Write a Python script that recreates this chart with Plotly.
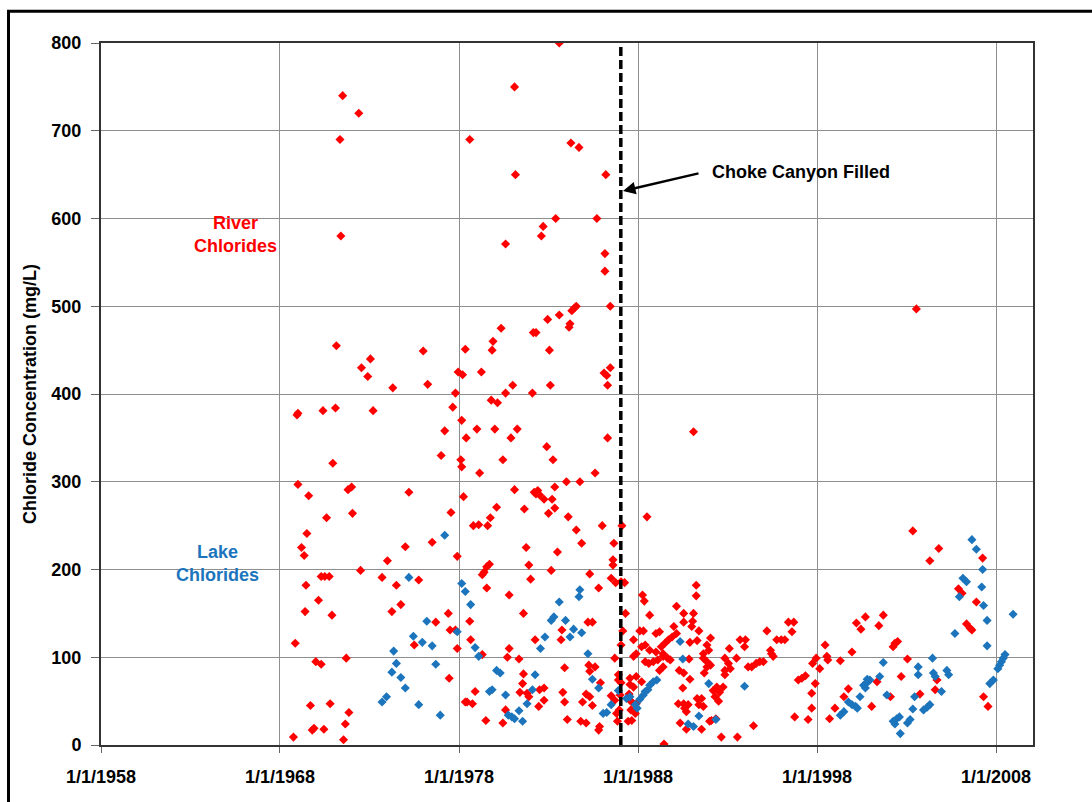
import datetime as dt
import plotly.graph_objects as go

# ---- data: sample date as decimal year, chloride in mg/L ----
river_year = [
    1968.75, 1968.85, 1968.95, 1969.0, 1969.0, 1969.2, 1969.35, 1969.4, 1969.45, 1969.5,
    1969.6, 1969.7, 1969.8, 1969.9, 1970.0, 1970.15, 1970.3, 1970.3, 1970.4, 1970.45,
    1970.5, 1970.6, 1970.75, 1970.8, 1970.9, 1970.95, 1971.1, 1971.15, 1971.35, 1971.4,
    1971.5, 1971.55, 1971.65, 1971.7, 1971.8, 1971.85, 1972.0, 1972.05, 1972.4, 1972.5,
    1972.55, 1972.9, 1973.05, 1973.2, 1973.7, 1974.0, 1974.25, 1974.3, 1974.5, 1974.75,
    1975.0, 1975.2, 1975.5, 1975.75, 1976.0, 1976.25, 1976.5, 1976.7, 1977.0, 1977.2,
    1977.4, 1977.45, 1977.5, 1977.55, 1977.65, 1977.8, 1977.8, 1977.9, 1977.9, 1977.95,
    1978.1, 1978.15, 1978.15, 1978.2, 1978.25, 1978.35, 1978.35, 1978.4, 1978.45, 1978.6,
    1978.6, 1978.65, 1978.75, 1978.8, 1978.9, 1979.0, 1979.1, 1979.15, 1979.25, 1979.3,
    1979.3, 1979.4, 1979.5, 1979.55, 1979.55, 1979.6, 1979.7, 1979.75, 1979.8, 1979.85,
    1979.9, 1980.0, 1980.1, 1980.15, 1980.35, 1980.45, 1980.45, 1980.6, 1980.6, 1980.6,
    1980.7, 1980.8, 1980.8, 1980.9, 1981.0, 1981.1, 1981.1, 1981.15, 1981.25, 1981.35,
    1981.4, 1981.55, 1981.6, 1981.6, 1981.65, 1981.75, 1981.8, 1981.9, 1981.9, 1982.0,
    1982.1, 1982.15, 1982.2, 1982.25, 1982.3, 1982.3, 1982.4, 1982.45, 1982.5, 1982.5,
    1982.6, 1982.7, 1982.75, 1982.75, 1982.75, 1982.9, 1982.95, 1983.0, 1983.05, 1983.1,
    1983.15, 1983.2, 1983.25, 1983.35, 1983.35, 1983.4, 1983.5, 1983.6, 1983.6, 1983.7,
    1983.75, 1983.8, 1983.9, 1983.9, 1984.0, 1984.05, 1984.1, 1984.15, 1984.2, 1984.25,
    1984.3, 1984.45, 1984.55, 1984.55, 1984.7, 1984.75, 1984.8, 1984.85, 1984.9, 1985.1,
    1985.1, 1985.2, 1985.25, 1985.3, 1985.3, 1985.3, 1985.45, 1985.45, 1985.6, 1985.6,
    1985.7, 1985.8, 1985.8, 1985.85, 1985.9, 1986.0, 1986.1, 1986.15, 1986.15, 1986.2,
    1986.25, 1986.3, 1986.3, 1986.45, 1986.45, 1986.5, 1986.5, 1986.6, 1986.6, 1986.65,
    1986.7, 1986.7, 1986.75, 1986.8, 1986.85, 1986.9, 1986.9, 1986.95, 1987.0, 1987.05,
    1987.05, 1987.05, 1987.1, 1987.15, 1987.25, 1987.3, 1987.45, 1987.5, 1987.55, 1987.55,
    1987.55, 1987.6, 1987.65, 1987.65, 1987.75, 1987.75, 1987.75, 1987.85, 1987.85, 1987.9,
    1987.9, 1987.9, 1988.1, 1988.2, 1988.2, 1988.25, 1988.3, 1988.35, 1988.4, 1988.4,
    1988.5, 1988.6, 1988.65, 1988.65, 1988.85, 1989.0, 1989.0, 1989.1, 1989.2, 1989.2,
    1989.3, 1989.4, 1989.4, 1989.4, 1989.45, 1989.5, 1989.65, 1989.7, 1989.8, 1989.9,
    1990.0, 1990.15, 1990.15, 1990.25, 1990.3, 1990.35, 1990.5, 1990.55, 1990.55, 1990.55,
    1990.55, 1990.6, 1990.7, 1990.7, 1990.8, 1990.85, 1990.9, 1990.9, 1991.0, 1991.05,
    1991.1, 1991.1, 1991.25, 1991.25, 1991.3, 1991.3, 1991.4, 1991.4, 1991.55, 1991.55,
    1991.65, 1991.65, 1991.65, 1991.7, 1991.85, 1991.85, 1991.85, 1991.95, 1992.0, 1992.05,
    1992.05, 1992.1, 1992.2, 1992.3, 1992.35, 1992.4, 1992.5, 1992.55, 1992.65, 1992.75,
    1992.85, 1992.85, 1992.85, 1993.05, 1993.1, 1993.15, 1993.5, 1993.55, 1993.7, 1993.95,
    1994.0, 1994.15, 1994.35, 1994.45, 1994.6, 1994.8, 1995.0, 1995.2, 1995.4, 1995.45,
    1995.55, 1995.75, 1996.0, 1996.2, 1996.4, 1996.6, 1996.7, 1996.75, 1996.95, 1997.15,
    1997.35, 1997.5, 1997.7, 1997.7, 1997.75, 1997.9, 1997.95, 1998.15, 1998.45, 1998.55,
    1998.6, 1998.7, 1999.0, 1999.3, 1999.5, 1999.75, 1999.95, 2000.2, 2000.45, 2000.7,
    2001.05, 2001.35, 2001.45, 2001.7, 2002.1, 2002.25, 2002.35, 2002.5, 2002.7, 2003.05,
    2003.35, 2003.55, 2003.75, 2004.3, 2004.6, 2004.7, 2004.8, 2005.9, 2006.1, 2006.35,
    2006.55, 2006.65, 2006.9, 2007.25, 2007.3, 2007.55,
]
river_cl = [
    9, 116, 376, 378, 297, 225, 216, 152, 182, 241,
    284, 45, 17, 19, 95, 165, 92, 192, 381, 18,
    192, 259, 192, 47, 148, 321, 384, 455, 690, 580,
    740, 6, 24, 99, 291, 37, 294, 264, 720, 199,
    430, 420, 440, 381, 191, 210, 152, 407, 182, 160,
    226, 288, 114, 188, 449, 411, 231, 140, 330, 358,
    150, 76, 131, 265, 385, 401, 131, 215, 110, 425,
    325, 317, 370, 422, 283, 451, 49, 350, 49, 690,
    141, 120, 47, 250, 61, 360, 251, 310, 425, 194,
    103, 197, 28, 203, 179, 250, 206, 259, 393, 450,
    460, 360, 271, 390, 475, 325, 25, 571, 401, 40,
    100, 110, 171, 350, 410, 750, 291, 650, 360, 98,
    60, 70, 150, 81, 269, 225, 59, 205, 55, 189,
    401, 470, 288, 120, 470, 286, 290, 44, 285, 63,
    580, 591, 280, 65, 51, 340, 485, 264, 450, 410,
    199, 280, 325, 294, 270, 600, 220, 800, 490, 120,
    131, 60, 88, 49, 300, 29, 260, 476, 480, 686,
    495, 498, 500, 245, 681, 300, 27, 230, 49, 58,
    25, 140, 91, 195, 84, 55, 140, 45, 310, 89,
    600, 179, 17, 21, 71, 250, 424, 560, 540, 650,
    421, 350, 410, 430, 500, 190, 56, 211, 205, 230,
    99, 51, 185, 36, 27, 80, 74, 40, 57, 186,
    114, 71, 250, 130, 185, 150, 27, 58, 69, 76,
    51, 40, 28, 49, 120, 101, 66, 42, 36, 104,
    78, 47, 130, 112, 72, 171, 130, 164, 114, 95,
    260, 93, 148, 108, 95, 127, 106, 97, 129, 85,
    112, 104, 101, 89, 1, 116, 99, 120, 97, 123,
    135, 158, 127, 47, 85, 25, 65, 150, 140, 82,
    47, 42, 38, 18, 46, 98, 117, 75, 135, 141,
    357, 150, 182, 170, 119, 53, 130, 46, 53, 18,
    104, 99, 44, 82, 114, 95, 89, 108, 27, 122,
    91, 28, 62, 55, 30, 66, 50, 60, 9, 66,
    99, 85, 80, 93, 110, 87, 99, 9, 120, 112,
    120, 89, 89, 22, 93, 95, 95, 130, 108, 104,
    101, 120, 120, 120, 140, 129, 140, 32, 74, 76,
    79, 29, 59, 42, 93, 70, 99, 87, 114, 101,
    97, 30, 42, 96, 55, 64, 106, 139, 132, 146,
    44, 72, 136, 148, 55, 112, 116, 118, 78, 98,
    244, 497, 58, 210, 63, 74, 224, 178, 173, 138,
    133, 131, 163, 213, 55, 44,
]

lake_year = [
    1973.7, 1973.95, 1974.25, 1974.35, 1974.5, 1974.75, 1975.0, 1975.2, 1975.45, 1975.75,
    1975.95, 1976.2, 1976.5, 1976.7, 1976.95, 1977.2, 1977.9, 1978.15, 1978.35, 1978.65,
    1978.9, 1979.1, 1979.7, 1979.85, 1980.1, 1980.3, 1980.6, 1980.75, 1980.95, 1981.1,
    1981.35, 1981.55, 1981.8, 1982.1, 1982.25, 1982.55, 1982.8, 1983.15, 1983.3, 1983.6,
    1983.95, 1984.2, 1984.4, 1984.7, 1984.75, 1984.85, 1985.2, 1985.45, 1985.8, 1986.05,
    1986.25, 1986.5, 1986.9, 1987.35, 1987.55, 1987.85, 1987.95, 1988.1, 1988.3, 1988.4,
    1988.55, 1988.65, 1988.85, 1989.05, 1990.35, 1990.5, 1990.8, 1991.1, 1991.4, 1991.95,
    1992.35, 1993.95, 1999.3, 1999.5, 1999.75, 1999.95, 2000.15, 2000.25, 2000.4, 2000.6,
    2000.7, 2000.8, 2000.85, 2000.95, 2001.5, 2001.7, 2001.9, 2002.25, 2002.35, 2002.45,
    2002.6, 2002.65, 2003.05, 2003.2, 2003.35, 2003.45, 2003.65, 2003.65, 2003.95, 2004.15,
    2004.3, 2004.45, 2004.5, 2004.6, 2004.95, 2005.25, 2005.35, 2005.7, 2005.95, 2006.15,
    2006.35, 2006.65, 2006.9, 2007.2, 2007.25, 2007.3, 2007.5, 2007.5, 2007.65, 2007.85,
    2008.1, 2008.2, 2008.3, 2008.4, 2008.5, 2008.95,
]
lake_cl = [
    49, 55, 83, 107, 93, 77, 65, 191, 124, 46,
    117, 141, 113, 92, 34, 239, 129, 184, 175, 160,
    111, 101, 61, 63, 85, 82, 57, 34, 32, 30,
    39, 27, 47, 63, 80, 110, 123, 142, 146, 163,
    142, 123, 132, 169, 177, 128, 104, 75, 65, 36,
    37, 46, 62, 53, 55, 46, 42, 52, 57, 61,
    63, 68, 72, 74, 118, 98, 24, 21, 33, 70,
    29, 67, 34, 38, 49, 46, 44, 42, 55, 68,
    65, 75, 72, 74, 78, 94, 57, 27, 24, 30,
    32, 13, 25, 29, 41, 55, 89, 80, 40, 43,
    46, 99, 82, 78, 61, 85, 80, 127, 169, 190,
    186, 234, 223, 180, 200, 159, 142, 113, 70, 74,
    87, 91, 95, 99, 103, 149,
]

tick_years = [1958, 1968, 1978, 1988, 1998, 2008]
tick_labels = ["1/1/1958", "1/1/1968", "1/1/1978", "1/1/1988", "1/1/1998", "1/1/2008"]
FILL_DATE = "1987-01-15"   # Choke Canyon Reservoir filled
X_RANGE = ["1958-01-01", "2010-01-24"]


def to_date(y):
    """Decimal year -> datetime."""
    yr = int(y)
    start = dt.datetime(yr, 1, 1)
    end = dt.datetime(yr + 1, 1, 1)
    return start + (end - start) * (y - yr)


RED = "#FF0000"
BLUE = "#1C75BC"
FONT = "Liberation Sans, Arial, sans-serif"

fig = go.Figure()
fig.add_trace(go.Scatter(
    x=[to_date(v) for v in river_year], y=river_cl, mode="markers",
    name="River Chlorides",
    marker=dict(symbol="diamond", size=7, color=RED, line=dict(width=0)),
))
fig.add_trace(go.Scatter(
    x=[to_date(v) for v in lake_year], y=lake_cl, mode="markers",
    name="Lake Chlorides",
    marker=dict(symbol="diamond", size=7, color=BLUE, line=dict(width=0)),
))

axis_common = dict(
    showgrid=True, gridcolor="#8E8E8E", gridwidth=1,
    showline=True, linecolor="#333333", linewidth=2, mirror=True,
    ticks="outside", tickcolor="#666666", tickwidth=1,
    tickfont=dict(family=FONT, size=18, color="black", weight="bold"),
    zeroline=False,
)

fig.update_layout(
    width=1092, height=802,
    margin=dict(l=101, r=59, t=43, b=57),
    paper_bgcolor="white", plot_bgcolor="white",
    showlegend=False,
    xaxis=dict(
        type="date", range=X_RANGE,
        tickmode="array",
        tickvals=[dt.datetime(y, 1, 1) for y in tick_years],
        ticktext=tick_labels,
        ticklen=6, ticklabelstandoff=8,
        **axis_common,
    ),
    yaxis=dict(
        range=[0, 800], dtick=100, ticklen=8, ticklabelstandoff=6,
        title=dict(text="Chloride Concentration (mg/L)", standoff=10,
                   font=dict(family=FONT, size=18, color="black", weight="bold")),
        **axis_common,
    ),
)


def px_x(p):
    return (p - 101) / 932.0


def px_y(p):
    return (745 - p) / 702.0


# white label backgrounds that mask the gridlines
for x0, x1, y0, y1 in [(167, 308, 203, 290), (165, 297, 533, 574), (700, 905, 160, 203)]:
    fig.add_shape(type="rect", xref="paper", yref="paper",
                  x0=px_x(x0), x1=px_x(x1), y0=px_y(y1), y1=px_y(y0),
                  fillcolor="white", line=dict(width=0), layer="between")

# reservoir-filled marker line
fig.add_shape(type="line", xref="x", yref="paper", x0=FILL_DATE, x1=FILL_DATE,
              y0=0, y1=1, line=dict(color="black", width=3.5, dash="9px,4px"))

# outer frame
fig.add_shape(type="rect", xref="paper", yref="paper",
              x0=px_x(8.5), x1=px_x(1100), y0=px_y(810), y1=px_y(11.3),
              line=dict(color="black", width=3), fillcolor="rgba(0,0,0,0)")

fig.add_annotation(xref="paper", yref="paper", x=px_x(235), y=px_y(234),
                   xanchor="center", yanchor="middle",
                   text="River<br>Chlorides", showarrow=False,
                   font=dict(family=FONT, size=18, color=RED, weight="bold"))
fig.add_annotation(xref="paper", yref="paper", x=px_x(217), y=px_y(563),
                   xanchor="center", yanchor="middle",
                   text="Lake<br>Chlorides", showarrow=False,
                   font=dict(family=FONT, size=18, color=BLUE, weight="bold"))
fig.add_annotation(xref="paper", yref="paper", x=px_x(710), y=px_y(172),
                   xanchor="left", yanchor="middle",
                   text="Choke Canyon Filled", showarrow=False,
                   font=dict(family=FONT, size=18, color="black", weight="bold"))
fig.add_annotation(xref="paper", yref="paper", x=px_x(623), y=px_y(191),
                   text="", showarrow=True, ax=77, ay=-18,
                   arrowhead=2, arrowsize=1, arrowwidth=2.5, arrowcolor="black",
                   standoff=0, startstandoff=0)

fig.write_html("out.html")
